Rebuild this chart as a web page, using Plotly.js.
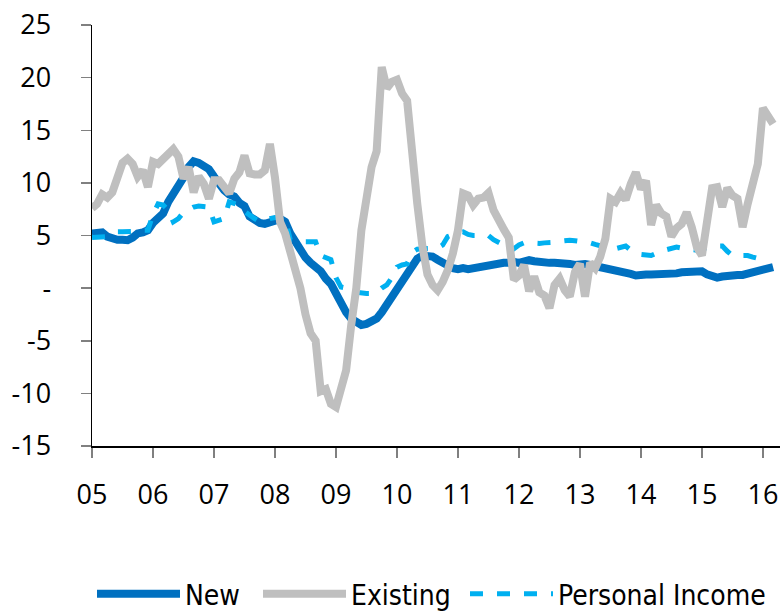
<!DOCTYPE html>
<html>
<head>
<meta charset="utf-8">
<script src="https://cdn.plot.ly/plotly-3.0.1.min.js"></script>
<style>html,body{margin:0;padding:0;background:#fff;}#chart{width:784px;height:616px;}</style>
</head>
<body>
<div id="chart"></div>
<script>
// Monthly data, Jan 2005 onwards (% y/y)
const startYear = 2005;

const newHomes = [
 5.2, 5.2, 5.3, 4.9, 4.7, 4.6, 4.6, 4.55, 4.8, 5.2, 5.3, 5.5,
 6.2, 6.6, 7.1, 8.2, 8.9, 9.6, 10.5, 11.5, 12.05, 11.9, 11.5, 11.3,
 10.6, 9.9, 9.3, 8.9, 8.7, 8.1, 7.8, 6.8, 6.4, 6.2, 6.1, 6.2,
 6.4, 6.6, 6.3, 5.2, 4.4, 3.6, 2.9, 2.4, 2.0, 1.6, 0.9, 0.4,
 -0.5, -1.5, -2.3, -2.9, -3.2, -3.5, -3.4, -3.2, -2.9, -2.3, -1.6, -0.9,
 -0.3, 0.6, 1.4, 2.0, 2.8, 3.1, 3.1, 3.0, 2.7, 2.4, 2.1, 1.9,
 1.8, 1.9, 1.8, 1.9, 1.9, 2.0, 2.2, 2.3, 2.3, 2.4, 2.4, 2.5,
 2.4, 2.6, 2.65, 2.55, 2.45, 2.4, 2.4, 2.4, 2.4, 2.4, 2.3, 2.2,
 2.3, 2.3, 2.2, 2.1, 2.0, 2.0, 1.9, 1.8, 1.6, 1.45, 1.35, 1.2,
 1.3, 1.3, 1.3, 1.3, 1.3, 1.25, 1.25, 1.4, 1.5, 1.55, 1.6, 1.7,
 1.6, 1.3, 1.1, 1.0, 1.1, 1.2, 1.2, 1.25, 1.25, 1.4, 1.55, 1.6,
 1.7, 1.85, 2.0
];

const existingHomes = [
 7.6, 8.0, 8.9, 8.6, 9.1, 10.5, 11.9, 12.3, 11.8, 10.6, 11.2, 9.6,
 12.0, 11.8, 12.3, 12.8, 13.2, 12.5, 10.4, 11.5, 9.1, 10.6, 9.9, 8.5,
 10.25, 10.25, 9.6, 9.0, 10.4, 11.0, 12.6, 10.9, 10.8, 10.8, 11.2, 13.7,
 10.5, 6.3, 5.2, 3.6, 1.9, 0.0, -2.5, -4.3, -5.0, -9.8, -9.6, -11.0,
 -11.3, -9.2, -7.8, -3.5, 0.0, 5.5, 9.0, 11.5, 13.0, 21.0, 19.0, 19.6,
 19.8, 18.5, 17.8, 12.5, 8.0, 4.0, 1.3, 0.3, -0.2, 0.6, 1.7, 3.3,
 5.5, 9.0, 8.8, 7.9, 8.5, 8.6, 9.05, 7.4, 6.3, 5.6, 4.8, 0.8,
 1.2, 2.2, -0.3, 1.1, -0.4, -0.7, -1.9, 0.3, 0.9, -0.2, -0.8, 1.5,
 2.3, -0.8, 2.4, 1.9, 3.0, 4.7, 8.5, 8.2, 9.05, 8.4, 9.9, 11.0,
 9.4, 10.2, 6.0, 7.9, 7.1, 6.8, 4.9, 5.7, 6.1, 7.2, 5.8, 3.9,
 3.1, 6.5, 9.5, 9.6, 7.7, 9.5, 8.8, 8.5, 5.8, 8.0, 10.0, 11.8,
 17.1, 16.4, 15.6
];

const personalIncome = [
 4.8, 4.8, 4.8, 4.9, 5.1, 5.35, 5.35, 5.35, 5.35, 5.4, 5.5, 5.5,
 7.0, 8.0, 7.9, 7.4, 6.3, 6.6, 7.2, 7.5, 7.7, 7.8, 7.8, 7.7,
 6.3, 6.5, 6.6, 8.2, 8.1, 7.9, 7.3, 6.9, 6.6, 6.3, 6.5, 6.6,
 6.7, 6.7, 6.7, 4.6, 4.5, 4.4, 4.4, 4.4, 4.4, 3.1, 2.9, 2.7,
 1.0, 0.1, 0.0, -0.35, -0.4, -0.5, -0.5, -0.5, -0.4, 0.0, 0.3, 1.0,
 2.0, 2.2, 2.3, 3.4, 3.7, 3.75, 3.75, 3.75, 3.8, 4.1, 4.9, 5.1,
 5.3, 5.35, 5.1, 5.0, 5.0, 5.0, 5.0, 4.6, 4.3, 4.1, 3.9, 3.75,
 4.1, 4.3, 4.3, 4.25, 4.25, 4.3, 4.3, 4.35, 4.45, 4.55, 4.55, 4.5,
 4.45, 4.4, 4.3, 4.15, 4.0, 3.85, 3.75, 3.75, 3.9, 4.0, 3.6, 3.3,
 3.2, 3.1, 3.1, 3.3, 3.55, 3.65, 3.8, 3.9, 3.8, 3.7, 3.6, 3.6,
 3.75, 3.9, 3.95, 4.0, 4.0, 3.5, 3.1, 3.1, 3.1, 3.1, 2.95, 2.8,
 2.7
];

const seriesNames = ["New", "Existing", "Personal Income"];
const yearTicks = [2005, 2006, 2007, 2008, 2009, 2010, 2011, 2012, 2013, 2014, 2015, 2016];
const yearLabels = ["05", "06", "07", "08", "09", "10", "11", "12", "13", "14", "15", "16"];
const yTickVals = [-15, -10, -5, 0, 5, 10, 15, 20, 25];
const yTickText = ["-15", "-10", "-5", "-", "5", "10", "15", "20", "25"];

function monthsFor(arr) {
  return arr.map((_, i) => startYear + i / 12);
}

const traces = [
  {
    x: monthsFor(newHomes), y: newHomes, name: seriesNames[0], type: "scatter", mode: "lines",
    line: {color: "#0070C0", width: 8}, legendrank: 1, legendwidth: 68
  },
  {
    x: monthsFor(personalIncome), y: personalIncome, name: seriesNames[2], type: "scatter", mode: "lines",
    line: {color: "#00B0F0", width: 5, dash: "13px,14px"}, legendrank: 3
  },
  {
    x: monthsFor(existingHomes), y: existingHomes, name: seriesNames[1], type: "scatter", mode: "lines",
    line: {color: "#BFBFBF", width: 8}, legendrank: 2, legendwidth: 109
  }
];

const tickFont = {family: "Open Sans, sans-serif", size: 27, color: "#000"};

const layout = {
  width: 784, height: 616,
  margin: {l: 92, r: 4, t: 25, b: 170, autoexpand: false},
  paper_bgcolor: "#fff", plot_bgcolor: "#fff",
  showlegend: true,
  legend: {
    orientation: "h", x: 0, xanchor: "left", y: -0.292, yanchor: "top",
    font: {family: "DejaVu Sans Condensed, DejaVu Sans, sans-serif", size: 28, color: "#000"},
    itemwidth: 83, bgcolor: "rgba(0,0,0,0)", borderwidth: 0,
    traceorder: "normal"
  },
  xaxis: {
    range: [2005, 2016.28], tickvals: yearTicks, ticktext: yearLabels,
    ticks: "outside", ticklen: 10, tickcolor: "#808080", tickwidth: 1.5,
    showline: true, linecolor: "#000", linewidth: 1.5,
    showgrid: false, zeroline: false, tickfont: tickFont, ticklabelstandoff: 14
  },
  yaxis: {
    range: [-15, 25], tickvals: yTickVals, ticktext: yTickText,
    ticks: "outside", ticklen: 10, tickcolor: "#808080", tickwidth: 1.5,
    showline: true, linecolor: "#000", linewidth: 1.5,
    showgrid: false, zeroline: false, tickfont: tickFont, ticklabelstandoff: 24
  }
};

Plotly.newPlot("chart", traces, layout, {staticPlot: true, displayModeBar: false});
</script>
</body>
</html>
